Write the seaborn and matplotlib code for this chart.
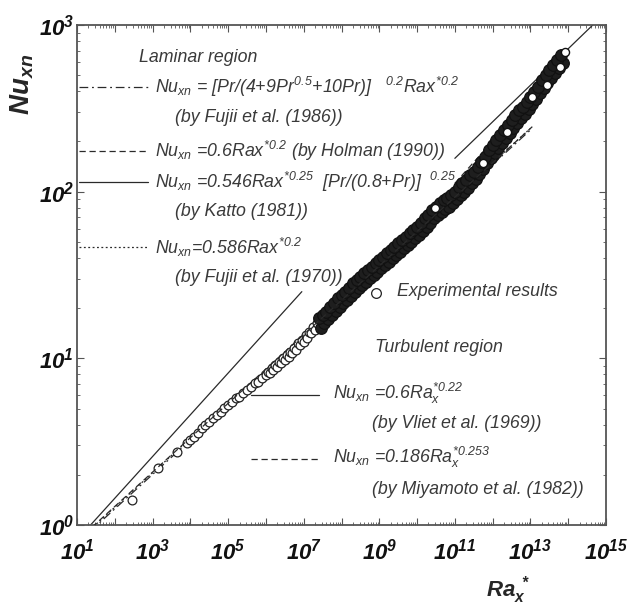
import numpy as np
import pandas as pd
import matplotlib
matplotlib.use("Agg")
import matplotlib.pyplot as plt
import seaborn as sns
from matplotlib.ticker import LogLocator, FuncFormatter, NullFormatter

# ---------------- data (log10 values) ----------------
# chain of open circles (low Ra*)
low_logra = [2.45, 3.14, 3.65, 3.90, 4.00, 4.10, 4.20, 4.30, 4.40, 4.50, 4.60, 4.70,
             4.80, 4.90, 5.00, 5.10, 5.20, 5.30, 5.40, 5.50, 5.60, 5.70, 5.80, 5.90,
             6.00, 6.05, 6.10, 6.15, 6.20, 6.25, 6.30, 6.35, 6.40, 6.45, 6.50, 6.55,
             6.60, 6.65, 6.70, 6.75, 6.80, 6.85, 6.90, 6.95, 7.00, 7.05, 7.10, 7.15,
             7.20, 7.25, 7.30, 7.35]
low_lognu = [0.15, 0.34, 0.44, 0.49, 0.51, 0.53, 0.55, 0.58, 0.60, 0.62, 0.64, 0.66,
             0.68, 0.70, 0.72, 0.74, 0.76, 0.77, 0.79, 0.81, 0.83, 0.85, 0.86, 0.88,
             0.90, 0.92, 0.91, 0.94, 0.93, 0.96, 0.95, 0.98, 0.97, 1.00, 0.99, 1.02,
             1.01, 1.04, 1.03, 1.06, 1.05, 1.09, 1.08, 1.11, 1.10, 1.14, 1.12, 1.16,
             1.15, 1.19, 1.17, 1.21]

# dense band of overlapping circles (high Ra*), upper and lower rows
up_logra = [7.4, 7.5, 7.6, 7.7, 7.8, 7.9, 8.0, 8.1, 8.2, 8.3, 8.4,
            8.5, 8.6, 8.7, 8.8, 8.9, 9.0, 9.1, 9.2, 9.3, 9.4, 9.5, 9.6, 9.7, 9.8, 9.9,
            10.0, 10.1, 10.2, 10.3, 10.4, 10.5, 10.6, 10.7, 10.8, 10.9, 11.0, 11.1,
            11.2, 11.3, 11.4, 11.5, 11.6, 11.7, 11.8, 11.9, 12.0, 12.1, 12.2, 12.3,
            12.4, 12.5, 12.6, 12.7, 12.8, 12.9, 13.0, 13.1, 13.2, 13.3, 13.4, 13.5,
            13.6, 13.7, 13.8]
up_lognu = [1.24, 1.26, 1.28, 1.31, 1.33, 1.36, 1.38, 1.40,
            1.42, 1.45, 1.47, 1.49, 1.51, 1.53, 1.55, 1.57, 1.59, 1.61, 1.63, 1.65,
            1.67, 1.69, 1.71, 1.73, 1.75, 1.77, 1.79, 1.81, 1.84, 1.86, 1.89, 1.91,
            1.93, 1.95, 1.96, 1.98, 2.00, 2.03, 2.05, 2.07, 2.10, 2.12, 2.15, 2.18,
            2.21, 2.25, 2.28, 2.31, 2.34, 2.37, 2.40, 2.43, 2.46, 2.49, 2.51, 2.54,
            2.57, 2.60, 2.63, 2.67, 2.70, 2.73, 2.76, 2.79, 2.82]
lo_logra = [7.45, 7.55, 7.65, 7.75, 7.85, 7.95, 8.05, 8.15,
            8.25, 8.35, 8.45, 8.55, 8.65, 8.75, 8.85, 8.95, 9.05, 9.15, 9.25, 9.35,
            9.45, 9.55, 9.65, 9.75, 9.85, 9.95, 10.05, 10.15, 10.25, 10.35, 10.45,
            10.55, 10.65, 10.75, 10.85, 10.95, 11.05, 11.15, 11.25, 11.35, 11.45,
            11.55, 11.65, 11.75, 11.85, 11.95, 12.05, 12.15, 12.25, 12.35, 12.45,
            12.55, 12.65, 12.75, 12.85, 12.95, 13.05, 13.15, 13.25, 13.35, 13.45,
            13.55, 13.65, 13.75, 13.85]
lo_lognu = [1.185, 1.21, 1.235, 1.26, 1.285, 1.31, 1.33, 1.35,
            1.375, 1.40, 1.42, 1.44, 1.46, 1.48, 1.50, 1.52, 1.54, 1.56, 1.58, 1.60,
            1.62, 1.64, 1.66, 1.68, 1.70, 1.72, 1.74, 1.765, 1.79, 1.815, 1.84, 1.86,
            1.88, 1.895, 1.91, 1.93, 1.955, 1.98, 2.00, 2.025, 2.05, 2.075, 2.105,
            2.135, 2.17, 2.205, 2.235, 2.265, 2.295, 2.325, 2.355, 2.385, 2.415, 2.44,
            2.465, 2.495, 2.525, 2.555, 2.59, 2.625, 2.655, 2.685, 2.715, 2.745, 2.775]
# circles whose white interior is still visible on top of the band
top_logra = [13.92, 13.78, 13.43, 13.04, 12.38, 11.74, 10.47]
top_lognu = [2.84, 2.75, 2.64, 2.57, 2.36, 2.17, 1.90]

# correlation lines: end points (log10 Ra*, log10 Nu)
line_names = ["Fujii 1986", "Holman 1990", "Katto 1981", "Fujii 1970", "Vliet 1969", "Miyamoto 1982"]
line_logra0 = [1.0, 1.0, 1.0, 1.0, 11.0, 11.0]
line_logra1 = [13.0, 13.05, 6.95, 13.0, 14.65, 14.0]
line_lognu0 = [-0.11, -0.095, -0.09, -0.10, 2.20, 2.05]
line_lognu1 = [2.37, 2.39, 1.40, 2.38, 3.00, 2.81]
line_styles = [(0, (7, 3, 1.5, 3)), (0, (5, 3)), "-", (0, (1.5, 2)), "-", (0, (5, 3))]

# ---------------- style ----------------
sns.set_style("ticks")
plt.rcParams.update({
    "font.family": ["Liberation Sans", "DejaVu Sans"],
    "mathtext.fontset": "custom",
    "mathtext.rm": "Liberation Sans:italic",
    "mathtext.it": "Liberation Sans:italic",
    "mathtext.sf": "Liberation Sans:italic",
    "mathtext.bf": "Liberation Sans:bold:italic",
    "xtick.direction": "in", "ytick.direction": "in",
    "xtick.top": True, "ytick.right": True,
    "xtick.major.size": 5, "ytick.major.size": 5,
    "xtick.minor.size": 2.5, "ytick.minor.size": 2.5,
    "xtick.major.width": 0.8, "ytick.major.width": 0.8,
    "xtick.minor.width": 0.6, "ytick.minor.width": 0.6,
    "xtick.color": "#555555", "ytick.color": "#555555",
    "xtick.labelcolor": "#111111", "ytick.labelcolor": "#111111",
})

fig = plt.figure(figsize=(6.29, 6.10), dpi=100)
ax = fig.add_axes([77 / 629, 1 - 525 / 610, 529 / 629, 500 / 610])
ax.set_xscale("log")
ax.set_yscale("log")

# lines
for i in range(len(line_names)):
    df = pd.DataFrame({"ra": 10 ** np.array([line_logra0[i], line_logra1[i]]),
                       "nu": 10 ** np.array([line_lognu0[i], line_lognu1[i]])})
    sns.lineplot(data=df, x="ra", y="nu", ax=ax, color="#2a2a2a", lw=0.9,
                 linestyle=line_styles[i], zorder=1 if i != 1 else 4, sort=False,
                 estimator=None)

# data points
sns.scatterplot(x=10 ** np.array(low_logra), y=10 ** np.array(low_lognu), ax=ax,
                marker="o", s=40, color="white", edgecolor="#222222", linewidth=0.9, zorder=3)
sns.scatterplot(x=10 ** np.array(lo_logra), y=10 ** np.array(lo_lognu), ax=ax,
                marker="o", s=70, color="#1e1e1e", edgecolor="#111111", linewidth=0.9, zorder=3)
sns.scatterplot(x=10 ** np.array(up_logra), y=10 ** np.array(up_lognu), ax=ax,
                marker="o", s=70, color="#1e1e1e", edgecolor="#111111", linewidth=0.9, zorder=3)
sns.scatterplot(x=10 ** np.array(top_logra), y=10 ** np.array(top_lognu), ax=ax,
                marker="o", s=34, color="white", edgecolor="#111111", linewidth=1.0, zorder=3.5)

ax.set_xlim(1e1, 1e15)
ax.set_ylim(1e0, 1e3)

# ticks
ax.xaxis.set_major_locator(LogLocator(base=10, numticks=40))
ax.xaxis.set_minor_locator(LogLocator(base=10, subs=np.arange(2, 10), numticks=400))
ax.yaxis.set_major_locator(LogLocator(base=10, numticks=10))
ax.yaxis.set_minor_locator(LogLocator(base=10, subs=np.arange(2, 10), numticks=100))


def xfmt(v, pos):
    e = int(round(np.log10(v)))
    return r"$\mathbf{10^{%d}}$" % e if e % 2 == 1 else ""


def yfmt(v, pos):
    e = int(round(np.log10(v)))
    return r"$\mathbf{10^{%d}}$" % e


ax.xaxis.set_major_formatter(FuncFormatter(xfmt))
ax.yaxis.set_major_formatter(FuncFormatter(yfmt))
ax.xaxis.set_minor_formatter(NullFormatter())
ax.yaxis.set_minor_formatter(NullFormatter())
ax.tick_params(axis="x", which="major", labelsize=16, pad=10)
ax.tick_params(axis="y", which="major", labelsize=16, pad=2)

for sp in ax.spines.values():
    sp.set_color("#555555")
    sp.set_linewidth(1.3)

ax.set_ylabel(r"$\mathbf{Nu_{xn}}$", fontsize=20)
ax.yaxis.set_label_coords(-0.078, 0.882)
ax.set_xlabel(r"$\mathbf{Ra_{x}^{\ *}}$", fontsize=16)
ax.xaxis.set_label_coords(0.815, -0.098)

# ---------------- annotations ----------------
tc = "#3a3a3a"
fs = 12.8
T = ax.transAxes


def txt(x, y, s, ha="left"):
    ax.text(x, y, s, transform=T, fontsize=fs, color=tc, style="italic",
            va="center", ha=ha)


def sample(x0, x1, y, ls):
    ax.plot([x0, x1], [y, y], transform=T, color="#2a2a2a", lw=0.9, linestyle=ls,
            clip_on=False)


txt(0.23, 0.934, "Laminar region", ha="center")

sample(0.004, 0.134, 0.876, line_styles[0])
txt(0.147, 0.876, r"$Nu_{xn}$ = $[Pr/(4{+}9Pr^{0.5}{+}10Pr)]\ \ \ ^{0.2}Rax^{*0.2}$")
txt(0.185, 0.814, "(by Fujii et al. (1986))")
sample(0.004, 0.134, 0.748, line_styles[1])
txt(0.147, 0.748, r"$Nu_{xn}$ =$0.6Rax^{*0.2}$ (by Holman (1990))")
sample(0.004, 0.134, 0.686, "-")
txt(0.147, 0.686, r"$Nu_{xn}$ =$0.546Rax^{*0.25}$  $[Pr/(0.8{+}Pr)]\ \ ^{0.25}$")
txt(0.185, 0.626, "(by Katto (1981))")
sample(0.004, 0.134, 0.556, line_styles[3])
txt(0.147, 0.556, r"$Nu_{xn}$=$0.586Rax^{*0.2}$")
txt(0.185, 0.496, "(by Fujii et al. (1970))")

ax.plot([0.565], [0.464], transform=T, marker="o", ms=7, mfc="white", mec="#222222",
        mew=0.9, ls="none")
txt(0.605, 0.468, "Experimental results")
txt(0.563, 0.356, "Turbulent region")
sample(0.329, 0.457, 0.26, "-")
txt(0.484, 0.264, r"$Nu_{xn}$ =$0.6Ra_{x}^{*0.22}$")
txt(0.558, 0.202, "(by Vliet et al. (1969))")
sample(0.329, 0.457, 0.132, line_styles[1])
txt(0.484, 0.136, r"$Nu_{xn}$ =$0.186Ra_{x}^{*0.253}$")
txt(0.558, 0.072, "(by Miyamoto et al. (1982))")

fig.savefig("out.png", dpi=100)
